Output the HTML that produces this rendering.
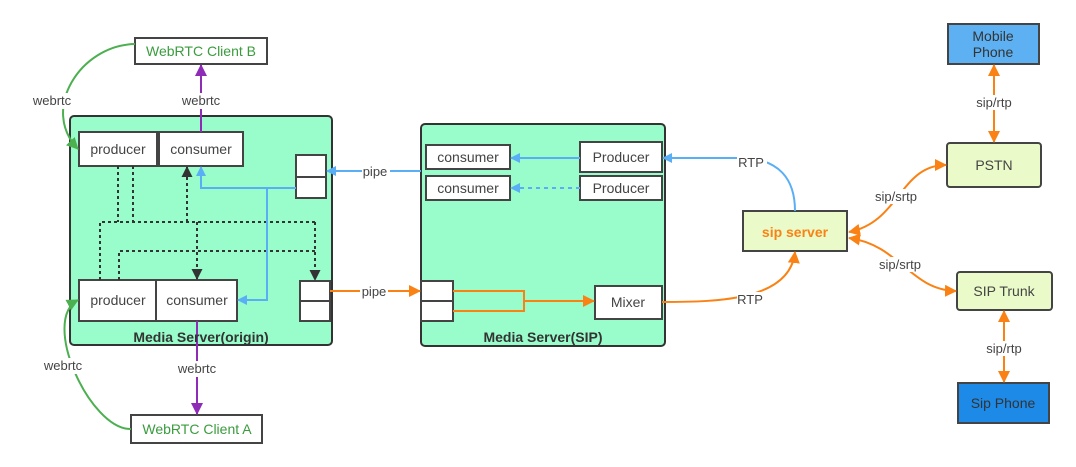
<!DOCTYPE html>
<html><head><meta charset="utf-8"><style>
html,body{margin:0;padding:0;background:#fff;}
svg{display:block;font-family:"Liberation Sans","Noto Sans CJK SC",sans-serif;}
</style></head><body>
<svg width="1076" height="467" viewBox="0 0 1076 467" xmlns="http://www.w3.org/2000/svg">
<defs>
<marker id="ab" markerWidth="10" markerHeight="10" refX="9" refY="5" orient="auto" markerUnits="userSpaceOnUse"><path d="M0,0 L10,5 L0,10 z" fill="#5aaef5"/></marker>
<marker id="ao" markerWidth="12" markerHeight="12" refX="11" refY="6" orient="auto" markerUnits="userSpaceOnUse"><path d="M0,0 L12,6 L0,12 z" fill="#fa8214"/></marker>
<marker id="aos" markerWidth="12" markerHeight="12" refX="1" refY="6" orient="auto" markerUnits="userSpaceOnUse"><path d="M12,0 L0,6 L12,12 z" fill="#fa8214"/></marker>
<marker id="ag" markerWidth="12" markerHeight="12" refX="11" refY="6" orient="auto" markerUnits="userSpaceOnUse"><path d="M0,0 L12,6 L0,12 z" fill="#4caf50"/></marker>
<marker id="ap" markerWidth="12" markerHeight="12" refX="11" refY="6" orient="auto" markerUnits="userSpaceOnUse"><path d="M0,0 L12,6 L0,12 z" fill="#8e2cb8"/></marker>
<marker id="ak" markerWidth="11" markerHeight="11" refX="10" refY="5.5" orient="auto" markerUnits="userSpaceOnUse"><path d="M0,0 L11,5.5 L0,11 z" fill="#333"/></marker>
</defs>
<g stroke="#333" stroke-width="2">
<rect x="70" y="116" width="262" height="229" rx="4" fill="#99fdcb"/>
<rect x="421" y="124" width="244" height="222" rx="4" fill="#99fdcb"/>
</g>
<g stroke="#444" stroke-width="2" fill="#fff">
<rect x="135" y="38" width="132" height="26"/>
<rect x="131" y="415" width="131" height="28"/>
<rect x="79" y="132" width="78" height="34"/>
<rect x="159" y="132" width="84" height="34"/>
<rect x="296" y="155" width="30" height="22"/>
<rect x="296" y="177" width="30" height="21"/>
<rect x="79" y="280" width="77" height="41"/>
<rect x="156" y="280" width="81" height="41"/>
<rect x="300" y="281" width="30" height="20"/>
<rect x="300" y="301" width="30" height="20"/>
<rect x="426" y="145" width="84" height="24"/>
<rect x="426" y="176" width="84" height="24"/>
<rect x="580" y="142" width="82" height="30"/>
<rect x="580" y="176" width="82" height="24"/>
<rect x="421" y="281" width="32" height="20"/>
<rect x="421" y="301" width="32" height="20"/>
<rect x="595" y="286" width="67" height="33"/>
<rect x="743" y="211" width="104" height="40" fill="#eafbc9"/>
<rect x="948" y="24" width="91" height="40" fill="#5db1f2"/>
<rect x="947" y="143" width="94" height="44" rx="3" fill="#eafbc9"/>
<rect x="957" y="272" width="95" height="38" rx="3" fill="#eafbc9"/>
<rect x="958" y="383" width="91" height="40" fill="#1e8ae8"/>
</g>
<g stroke="#333" stroke-width="2" fill="none" stroke-dasharray="3,3">
<path d="M118,166 V222 M133,166 V222 M100,280 V222 H315"/>
<path d="M119,280 V251 H315"/>
<path d="M187,222 V167" marker-end="url(#ak)"/>
<path d="M197,222 V279" marker-end="url(#ak)"/>
<path d="M315,222 V280" marker-end="url(#ak)"/>
</g>
<g stroke="#5aaef5" stroke-width="2" fill="none">
<path d="M296,188 H201 V167" marker-end="url(#ab)"/>
<path d="M267,188 V300 H238" marker-end="url(#ab)"/>
<path d="M421,171 H327" marker-end="url(#ab)"/>
<path d="M580,158 H511" marker-end="url(#ab)"/>
<path d="M580,188 H511" stroke-dasharray="4,4" marker-end="url(#ab)"/>
<path d="M795,211 C795,180 780,158 740,158 H663" marker-end="url(#ab)"/>
</g>
<g stroke="#fa8214" stroke-width="2" fill="none">
<path d="M330,291 H420" marker-end="url(#ao)"/>
<path d="M453,291 H524 V311 H453 M524,301 H594" marker-end="url(#ao)"/>
<path d="M662,302 C720,302 790,300 795,252" marker-end="url(#ao)"/>
<path d="M849,232 C900,222 900,165 946,165" marker-start="url(#aos)" marker-end="url(#ao)"/>
<path d="M849,238 C900,245 910,290 956,291" marker-start="url(#aos)" marker-end="url(#ao)"/>
<path d="M994,65 V142" marker-start="url(#aos)" marker-end="url(#ao)"/>
<path d="M1004,311 V382" marker-start="url(#aos)" marker-end="url(#ao)"/>
</g>
<g stroke-width="2" fill="none">
<path d="M135,44 C80,45 40,110 78,149" stroke="#4caf50" marker-end="url(#ag)"/>
<path d="M131,429 C90,430 40,320 78,300" stroke="#4caf50" marker-end="url(#ag)"/>
<path d="M201,132 V65" stroke="#8e2cb8" marker-end="url(#ap)"/>
<path d="M197,321 V414" stroke="#8e2cb8" marker-end="url(#ap)"/>
</g>
<g font-size="13" fill="#444" text-anchor="middle">
<rect x="30" y="93" width="44" height="16" fill="#fff"/><text x="52" y="105">webrtc</text>
<rect x="178" y="93" width="46" height="16" fill="#fff"/><text x="201" y="105">webrtc</text>
<rect x="40" y="358" width="44" height="16" fill="#fff"/><text x="63" y="370">webrtc</text>
<rect x="174" y="361" width="46" height="16" fill="#fff"/><text x="197" y="373">webrtc</text>
<rect x="362" y="164" width="28" height="14" fill="#fff"/><text x="375" y="176">pipe</text>
<rect x="360" y="284" width="28" height="14" fill="#fff"/><text x="374" y="296">pipe</text>
<rect x="737" y="155" width="30" height="14" fill="#fff"/><text x="751" y="167">RTP</text>
<rect x="737" y="292" width="30" height="14" fill="#fff"/><text x="750" y="304">RTP</text>
<rect x="872" y="189" width="48" height="15" fill="#fff"/><text x="896" y="201">sip/srtp</text>
<rect x="876" y="257" width="48" height="15" fill="#fff"/><text x="900" y="269">sip/srtp</text>
<rect x="972" y="95" width="44" height="15" fill="#fff"/><text x="994" y="107">sip/rtp</text>
<rect x="982" y="341" width="44" height="15" fill="#fff"/><text x="1004" y="353">sip/rtp</text>
</g>
<g font-size="14" fill="#444" text-anchor="middle">
<text x="201" y="56" fill="#3a9c3e">WebRTC Client B</text>
<text x="197" y="434" fill="#3a9c3e">WebRTC Client A</text>
<text x="118" y="154">producer</text>
<text x="201" y="154">consumer</text>
<text x="118" y="305">producer</text>
<text x="197" y="305">consumer</text>
<text x="468" y="162">consumer</text>
<text x="468" y="193">consumer</text>
<text x="621" y="162">Producer</text>
<text x="621" y="193">Producer</text>
<text x="628" y="307">Mixer</text>
<text x="994" y="170">PSTN</text>
<text x="1004" y="296">SIP Trunk</text>
<text x="993" y="41" fill="#333">Mobile</text>
<text x="993" y="57" fill="#333">Phone</text>
<text x="1003" y="408" fill="#333">Sip Phone</text>
<text x="795" y="237" font-weight="bold" fill="#fa8214">sip server</text>
<text x="201" y="342" font-weight="bold" fill="#333">Media Server(origin)</text>
<text x="543" y="342" font-weight="bold" fill="#333">Media Server(SIP)</text>
</g>
</svg>
</body></html>
